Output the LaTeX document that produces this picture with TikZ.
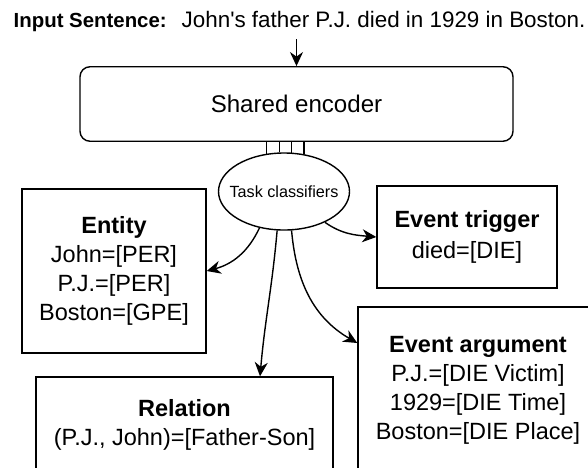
\documentclass[tikz,border=0pt]{standalone}
\usepackage{fontspec}
\setmainfont{Liberation Sans}
\newfontfamily\lsans{Liberation Sans}
\usetikzlibrary{arrows.meta,shapes.geometric,calc}
\newcommand\fsz[2]{\lsans\fontsize{#1}{#2}\selectfont}
\begin{document}
\begin{tikzpicture}[x=1pt,y=1pt, line width=1.4pt,
  box/.style={draw, rectangle, align=center, inner sep=0pt, font=\fsz{23.5}{29}},
  arr/.style={-{Stealth[length=14pt,width=13pt,inset=4.5pt]}}]
\useasboundingbox (0,0) rectangle (588,-467);
\clip (0,0) rectangle (588,-467);
\fill[white] (0,0) rectangle (588,-467);
% title
\node[anchor=base west, inner sep=0pt, font=\fsz{22.4}{26}] (title) at (13,-27.5)
  {\textbf{\fsz{20.4}{24}Input Sentence:}\hspace{15pt}John's father P.J. died in 1929 in Boston.};
% encoder
\node[draw, rounded corners=10pt, minimum width=433pt, minimum height=74.5pt, inner sep=0pt,
  font=\fsz{24.1}{28}] (enc) at (296.5,-104) {Shared encoder};
\coordinate (in) at ($(enc.north)+(0,27)$);
\draw[arr] (in) -- (enc.north);
% classifiers
\node[draw, ellipse, minimum width=131pt, minimum height=77pt, inner sep=0pt,
  label={[font=\fsz{16.2}{20}, inner sep=0pt]center:Task classifiers}] (ell) at (284,-191.5) {};
\foreach \a in {115,97,79,62} \draw (ell.\a |- enc.south) -- (ell.\a);
% task boxes
\node[box, minimum width=184pt, minimum height=164pt] (ent) at (114,-271)
  {\textbf{Entity}\\John=[PER]\\P.J.=[PER]\\Boston=[GPE]};
\node[box, minimum width=180pt, minimum height=102pt] (trig) at (467,-237)
  {\textbf{Event trigger}\\[2pt]died=[DIE]};
\node[box, minimum width=297pt, minimum height=96pt] (rel) at (184.5,-425)
  {\textbf{Relation}\\(P.J., John)=[Father-Son]};
\node[box, minimum width=240pt, minimum height=166pt] (arg) at (478,-390)
  {\textbf{Event argument}\\P.J.=[DIE Victim]\\1929=[DIE Time]\\Boston=[DIE Place]};
% connectors
\draw[arr] (ell.236) to[out=245,in=15] (ent.east);
\draw[arr] (ell.260) to[out=-95,in=85] ([xshift=75.5pt]rel.north);
\draw[arr] (ell.281) to[out=-85,in=150] ([yshift=47pt]arg.west);
\draw[arr] (ell.323) to[out=-35,in=175] (trig.west);
\end{tikzpicture}
\end{document}
